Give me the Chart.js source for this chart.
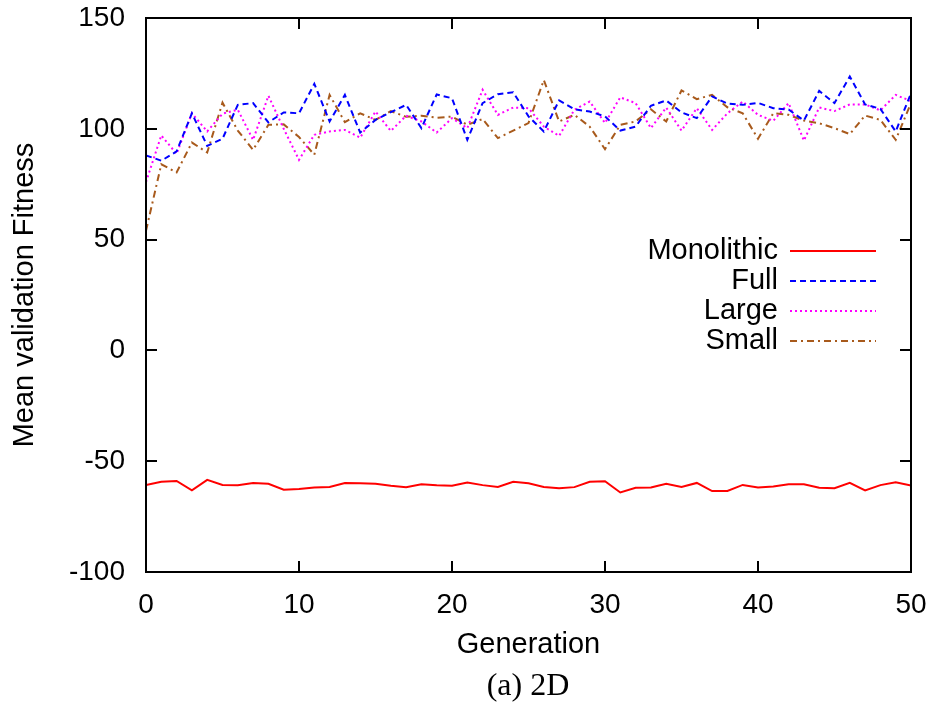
<!DOCTYPE html>
<html>
<head>
<meta charset="utf-8">
<script src="https://cdn.jsdelivr.net/npm/chart.js@4.4.1/dist/chart.umd.min.js"></script>
<style>
  html, body { margin: 0; padding: 0; background: #ffffff; }
  #wrap { position: relative; width: 938px; height: 703px; }
  #caption {
    position: absolute; left: 528px; top: 668px; transform: translateX(-50%);
    white-space: nowrap; line-height: 1;
    font-family: "Liberation Serif", "Times New Roman", serif; font-size: 32px; color: #000;
  }
</style>
</head>
<body>
<div id="wrap">
  <canvas id="chart" width="938" height="703"></canvas>
  <div id="caption">(a) 2D</div>
</div>
<script>
// Generations 0..50
const generations = Array.from({ length: 51 }, (_, i) => i);

// Mean validation fitness per generation
const monolithic = [
  -60.8, -59.3, -58.9, -63.1, -58.4, -60.7, -60.8, -59.8, -60.2, -62.9,
  -62.5, -61.9, -61.6, -59.8, -60.0, -60.2, -61.1, -61.7, -60.4, -60.9,
  -61.1, -59.6, -60.8, -61.6, -59.3, -60.0, -61.6, -62.2, -61.7, -59.3,
  -59.0, -64.1, -62.0, -61.9, -60.2, -61.6, -59.8, -63.5, -63.4, -60.7,
  -61.9, -61.4, -60.4, -60.4, -62.0, -62.2, -59.8, -63.2, -60.8, -59.5,
  -61.0
];
const full = [
  88.0, 85.6, 89.8, 107.0, 92.3, 95.5, 110.8, 111.6, 102.9, 107.4,
  107.0, 120.3, 103.3, 115.3, 98.3, 104.0, 107.5, 110.8, 100.3, 115.5,
  113.8, 95.0, 111.6, 115.6, 116.5, 105.6, 98.8, 112.8, 108.8, 107.8,
  105.6, 99.2, 101.0, 110.4, 112.8, 107.4, 104.8, 114.6, 111.4, 110.8,
  111.7, 109.3, 108.7, 103.7, 117.1, 111.6, 123.6, 111.0, 109.0, 98.8,
  116.0
];
const large = [
  76.0, 97.0, 88.7, 107.0, 98.8, 106.8, 108.6, 95.0, 114.9, 100.0,
  86.0, 97.3, 98.8, 99.5, 96.0, 107.8, 99.0, 105.9, 103.3, 98.3,
  104.8, 100.3, 117.6, 106.3, 109.6, 109.3, 101.0, 96.8, 108.6, 112.3,
  102.6, 114.2, 111.6, 100.3, 109.6, 99.2, 109.3, 99.5, 107.0, 112.3,
  106.3, 103.6, 111.6, 94.7, 109.6, 108.0, 111.0, 111.0, 108.3, 115.3,
  112.5
];
const small = [
  54.0, 84.0, 80.3, 93.8, 89.3, 111.8, 99.2, 90.5, 101.8, 102.0,
  96.3, 88.3, 115.3, 103.0, 107.0, 104.0, 108.0, 105.4, 105.9, 105.0,
  105.5, 101.8, 104.4, 95.8, 99.2, 102.6, 122.0, 103.3, 106.3, 101.0,
  90.8, 101.8, 103.3, 108.8, 103.3, 117.3, 113.4, 115.3, 109.7, 107.0,
  95.5, 107.0, 106.3, 103.7, 102.5, 100.3, 97.6, 106.0, 104.0, 95.0,
  111.6
];

const xTicks = [0, 10, 20, 30, 40, 50];
const yTicks = [-100, -50, 0, 50, 100, 150];

const seriesNames = ['Monolithic', 'Full', 'Large', 'Small'];

const FONT = '"Liberation Sans", Arial, Helvetica, sans-serif';

const toPoints = (arr) => arr.map((v, i) => ({ x: generations[i], y: v }));

// Box frame with inward ticks on all four sides, plus an in-plot key
const framePlugin = {
  id: 'frame',
  afterDatasetsDraw(chart) {
    const { ctx, chartArea: a, scales } = chart;
    const tl = 11;
    ctx.save();
    ctx.strokeStyle = '#000';
    ctx.lineWidth = 2;
    ctx.beginPath();
    yTicks.forEach(v => {
      const y = Math.round(scales.y.getPixelForValue(v));
      ctx.moveTo(a.left, y); ctx.lineTo(a.left + tl, y);
      ctx.moveTo(a.right, y); ctx.lineTo(a.right - tl, y);
    });
    xTicks.forEach(v => {
      const x = Math.round(scales.x.getPixelForValue(v));
      ctx.moveTo(x, a.bottom); ctx.lineTo(x, a.bottom - tl);
      ctx.moveTo(x, a.top); ctx.lineTo(x, a.top + tl);
    });
    ctx.stroke();
    ctx.strokeRect(a.left, a.top, a.right - a.left, a.bottom - a.top);

    // key
    const textRight = 778, sx0 = 790, sx1 = 876, y0 = 251, dy = 30;
    ctx.font = '29px ' + FONT;
    ctx.textAlign = 'right';
    ctx.textBaseline = 'middle';
    chart.data.datasets.forEach((ds, i) => {
      const y = y0 + i * dy;
      ctx.fillStyle = '#000';
      ctx.fillText(ds.label, textRight, y);
      ctx.beginPath();
      ctx.setLineDash(ds.borderDash || []);
      ctx.strokeStyle = ds.borderColor;
      ctx.lineWidth = ds.borderWidth;
      ctx.moveTo(sx0, y); ctx.lineTo(sx1, y);
      ctx.stroke();
    });
    ctx.restore();
  }
};

new Chart(document.getElementById('chart'), {
  type: 'line',
  data: {
    datasets: [
      { label: seriesNames[0], data: toPoints(monolithic), borderColor: '#ff0000', borderWidth: 2, borderDash: [] },
      { label: seriesNames[1], data: toPoints(full), borderColor: '#0000ff', borderWidth: 2, borderDash: [6, 4] },
      { label: seriesNames[2], data: toPoints(large), borderColor: '#ff00ff', borderWidth: 2, borderDash: [2, 3] },
      { label: seriesNames[3], data: toPoints(small), borderColor: '#a85a1c', borderWidth: 2, borderDash: [7, 4, 2, 4] }
    ]
  },
  options: {
    responsive: false,
    animation: false,
    layout: { padding: { top: 18, right: 27, left: 0, bottom: 0 } },
    elements: { point: { radius: 0 }, line: { tension: 0, fill: false } },
    plugins: { legend: { display: false }, tooltip: { enabled: false } },
    scales: {
      x: {
        type: 'linear', min: 0, max: 50,
        afterFit: (s) => { s.height = 131; s.paddingLeft = 0; s.paddingRight = 0; },
        afterBuildTicks: (s) => { s.ticks = xTicks.map(v => ({ value: v })); },
        grid: { display: false, drawTicks: false },
        border: { display: false },
        ticks: { color: '#000', font: { family: FONT, size: 28 }, padding: 16, maxRotation: 0 },
        title: { display: true, text: 'Generation', color: '#000', font: { family: FONT, size: 29 }, padding: { top: 0, bottom: 41 } }
      },
      y: {
        type: 'linear', min: -100, max: 150,
        afterFit: (s) => { s.width = 146; s.paddingTop = 0; s.paddingBottom = 0; },
        afterBuildTicks: (s) => { s.ticks = yTicks.map(v => ({ value: v })); },
        grid: { display: false, drawTicks: false },
        border: { display: false },
        ticks: { color: '#000', font: { family: FONT, size: 28 }, padding: 21 },
        title: { display: true, text: 'Mean validation Fitness', color: '#000', font: { family: FONT, size: 29 }, padding: { top: 8, bottom: 0 } }
      }
    }
  },
  plugins: [framePlugin]
});
</script>
</body>
</html>
